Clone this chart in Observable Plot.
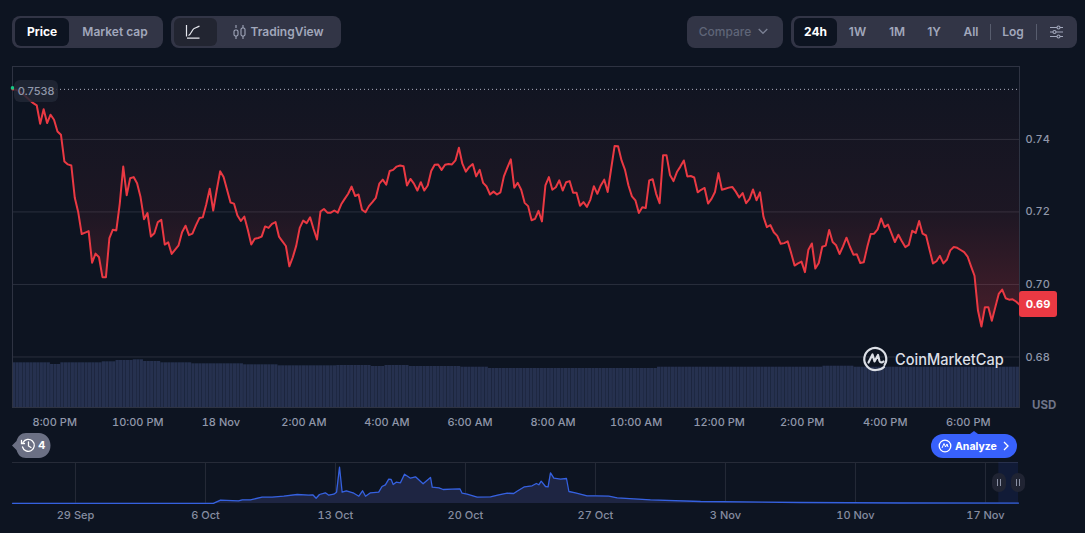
<!DOCTYPE html>
<html>
<head>
<meta charset="utf-8">
<script src="https://cdn.jsdelivr.net/npm/d3@7"></script>
<script src="https://cdn.jsdelivr.net/npm/@observablehq/plot@0.6"></script>
<style>
html,body{margin:0;padding:0;background:#0d1421;width:1085px;height:533px;overflow:hidden;font-family:Inter,"Noto Sans",sans-serif}
#stage{position:relative;width:1085px;height:533px}
#stage>svg{position:absolute;left:0;top:0}
.ui{position:absolute;box-sizing:border-box;white-space:nowrap}
.grp{background:#323546;border-radius:8px;height:32px;top:16px}
.sel{top:18px;height:28px;border-radius:6px;background:#0d1421}
.btn{top:16px;height:32px;line-height:32px;font-size:12px;font-weight:600;color:#a1a7bb;text-align:center;transform:translateX(-50%)}
.sep{top:24px;height:16px;width:1px;background:#585d6e}
.ico{position:absolute;overflow:visible}
</style>
</head>
<body>
<div id="stage"></div>
<script>
const openPrice = 0.7538;
const lastPrice = 0.6944;
const prices = [
0.7538,0.7537,0.7532,0.7526,0.7517,0.7508,0.7500,0.7494,0.7443,0.7483,0.7445,0.7468,0.7454,0.7422,0.7413,0.7339,0.7331,0.7328,0.7239,0.7199,
0.7139,0.7143,0.7147,0.7060,0.7085,0.7075,0.7020,0.7020,0.7128,0.7151,0.7149,0.7223,0.7325,0.7246,0.7293,0.7296,0.7279,0.7241,0.7180,0.7197,
0.7132,0.7141,0.7172,0.7178,0.7110,0.7116,0.7084,0.7096,0.7108,0.7144,0.7162,0.7136,0.7140,0.7163,0.7183,0.7185,0.7221,0.7264,0.7204,0.7259,
0.7312,0.7296,0.7261,0.7226,0.7223,0.7190,0.7175,0.7187,0.7151,0.7110,0.7126,0.7128,0.7132,0.7160,0.7156,0.7167,0.7172,0.7132,0.7119,0.7106,
0.7050,0.7075,0.7107,0.7156,0.7176,0.7169,0.7185,0.7153,0.7124,0.7201,0.7208,0.7198,0.7198,0.7204,0.7198,0.7221,0.7236,0.7250,
0.7270,0.7244,0.7248,0.7206,0.7199,0.7216,0.7227,0.7239,0.7278,0.7289,0.7275,0.7313,0.7316,0.7325,0.7328,0.7326,0.7273,0.7291,0.7278,0.7259,
0.7282,0.7259,0.7273,0.7313,0.7330,0.7331,0.7316,0.7330,0.7332,0.7331,0.7342,0.7377,0.7333,0.7311,0.7324,0.7332,0.7298,0.7316,0.7280,0.7270,
0.7248,0.7256,0.7248,0.7254,0.7298,0.7322,0.7345,0.7267,0.7280,0.7261,0.7225,0.7216,0.7177,0.7181,0.7203,0.7174,0.7273,0.7296,0.7261,0.7268,
0.7287,0.7259,0.7282,0.7285,0.7253,0.7253,0.7217,0.7227,0.7214,0.7234,0.7271,0.7250,0.7273,0.7289,0.7255,0.7319,0.7382,0.7381,0.7342,0.7316,
0.7273,0.7243,0.7232,0.7197,0.7213,0.7211,0.7287,0.7290,0.7250,0.7224,0.7356,0.7356,0.7302,0.7285,0.7310,0.7325,
0.7342,0.7298,0.7299,0.7295,0.7254,0.7261,0.7266,0.7223,0.7236,0.7255,0.7307,0.7261,0.7264,0.7267,0.7269,0.7256,0.7240,0.7252,0.7224,0.7236,
0.7262,0.7232,0.7254,0.7187,0.7158,0.7164,0.7144,0.7134,0.7112,0.7114,0.7119,0.7087,0.7052,0.7058,0.7063,0.7034,0.7096,0.7113,0.7044,0.7059,
0.7104,0.7107,0.7150,0.7117,0.7108,0.7084,0.7105,0.7129,0.7104,0.7082,0.7083,0.7059,0.7061,0.7103,0.7139,0.7140,0.7152,0.7182,0.7158,0.7165,
0.7141,0.7117,0.7137,0.7119,0.7103,0.7109,0.7148,0.7142,0.7175,0.7140,0.7135,0.7096,0.7058,0.7064,0.7079,0.7058,0.7068,0.7094,0.7103,0.7101,
0.7095,0.7089,0.7077,0.7050,0.7024,0.6928,0.6884,0.6937,0.6937,0.6900,0.6937,0.6974,0.6986,0.6962,0.6958,0.6959,0.6953,0.6944
];
const volumeLevels = [44.7,43,44.7,45.7,47,47.7,46,44.7,43.7,42.7,41.7,42,41,42,41,40.3,39,40.3,41.3,40.3];
const volumeRuns   = [11,3,12,4,5,3,5,9,15,10,17,10,4,7,15,8,49,48,9,48];
const priceTickHours  = [20,22,24,26,28,30,32,34,36,38,40,42];
const priceTickLabels = ["8:00 PM","10:00 PM","18 Nov","2:00 AM","4:00 AM","6:00 AM","8:00 AM","10:00 AM","12:00 PM","2:00 PM","4:00 PM","6:00 PM"];
const priceTicks = [0.74,0.72,0.70,0.68];

const miniDays = [-3.39,7.43,7.81,8.78,8.99,9.42,10.05,10.59,11.22,11.94,12.57,12.78,12.96,13.14,13.46,13.64,13.91,14.06,14.22,14.36,14.59,14.99,15.26,15.46,15.62,15.89,16.33,16.51,16.69,16.87,17.0,17.11,17.27,17.5,17.72,18.04,18.31,18.72,19.12,19.21,19.57,19.8,20.28,20.7,20.82,21.09,21.63,22.35,22.8,23.25,23.6,23.78,24.18,24.59,24.82,24.95,25.08,25.31,25.45,25.58,25.76,26.12,26.44,26.57,26.92,27.55,28.0,28.72,29.17,30.07,30.96,33.66,39,44.4,50.78];
const miniValues = [0.2,0.2,3.3,2.7,3.7,3.7,6.3,6.3,7.3,9,8.3,8.7,5.3,9,10.7,8.3,9.3,11.3,36.3,11.3,12.7,10.3,7.3,12.7,7.3,10.7,11.3,17,18.7,24.3,24,19,21.3,20.7,29.3,25.3,26.7,19.7,26,16.3,15.7,14,14.3,14.7,10.3,9.3,6.3,6.7,8.7,10.3,10,12.3,16.7,17.7,20,18.7,22.3,17,16.7,30.7,25.3,24.3,25,12,10.7,7.7,7.7,7.3,5.7,4.7,3.7,2,1,0.5,0.4];
const miniTickDays = [0,7,14,21,28,35,42,49];
const miniTickLabels = ["29 Sep","6 Oct","13 Oct","20 Oct","27 Oct","3 Nov","10 Nov","17 Nov"];

const MIN = 60000, DAY = 864e5;
const start = new Date(2023,10,17,18,59), end = new Date(+start + 1455*MIN);
const hourDate = h => new Date(2023,10,17,h);
const stepP = (end-start)/(prices.length-1);
const priceRows = prices.map((price,i)=>({time:new Date(+start+i*stepP),price}));
const volumes = volumeLevels.flatMap((v,i)=>Array(volumeRuns[i]).fill(v));
const stepV = (end-start)/volumes.length;
const volumeRows = volumes.map((v,i)=>({t0:new Date(+start+i*stepV),t1:new Date(+start+(i+1)*stepV),v}));
const priceTickDates = priceTickHours.map(hourDate);
const priceLabelOf = new Map(priceTickDates.map((d,i)=>[+d,priceTickLabels[i]]));

const base = new Date(2023,8,29);
const miniDate = d => new Date(+base + d*DAY);
const miniRows = miniDays.map((d,i)=>({time:miniDate(d),v:miniValues[i]}));
const miniTickDates = miniTickDays.map(miniDate);
const miniLabelOf = new Map(miniTickDates.map((d,i)=>[+d,miniTickLabels[i]]));

const W=1085,H=533;
const fontStyle={background:"transparent",fontFamily:"Inter",fontSize:"11px",fontWeight:500};
const geom={width:W,height:H,marginTop:66,marginBottom:126,marginLeft:12,marginRight:66};
const grad = () => {
  const s=d3.create("svg:defs");
  const g=s.append("linearGradient").attr("id","priceFade").attr("x1",0).attr("x2",0).attr("y1",0).attr("y2",1);
  [[0,.02],[.51,.07],[.89,.22],[1,.3]].forEach(([o,a])=>g.append("stop").attr("offset",o).attr("stop-color","#ea3943").attr("stop-opacity",a));
  return s.node();
};

const volumePlot = Plot.plot({...geom,style:fontStyle,
  x:{type:"time",domain:[start,end],axis:null},
  y:{domain:[0,341],axis:null},
  marks:[Plot.rectY(volumeRows,{x1:"t0",x2:"t1",y1:0,y2:"v",fill:"#26314f",insetLeft:.1,insetRight:.1})]
});

const mainPlot = Plot.plot({...geom,style:fontStyle,
  x:{type:"time",domain:[start,end]},
  y:{domain:[0.66607,0.7601]},
  marks:[
    grad,
    Plot.ruleY(priceTicks,{stroke:"#2a2f3d",strokeWidth:1}),
    Plot.frame({stroke:"#2e3342"}),
    Plot.areaY(priceRows,{x:"time",y1:()=>openPrice,y2:"price",fill:"url(#priceFade)"}),
    Plot.ruleY([openPrice],{stroke:"#aab0c2",strokeDasharray:"1,3",strokeWidth:1}),
    Plot.lineY(priceRows,{x:"time",y:"price",stroke:"#ea3943",strokeWidth:2}),
    Plot.dot([{time:start,price:openPrice+0.0004}],{x:"time",y:"price",r:1.8,fill:"#16c784"}),
    Plot.axisX({ticks:priceTickDates,tickFormat:d=>priceLabelOf.get(+d),tickSize:0,tickPadding:11,label:null,fill:"#9097aa"}),
    Plot.axisY({anchor:"right",ticks:priceTicks,tickFormat:".2f",tickSize:0,tickPadding:6,label:null,fill:"#9097aa"})
  ]
});

const miniPlot = Plot.plot({width:W,height:H,marginTop:462,marginBottom:30,marginLeft:12,marginRight:67,style:fontStyle,
  x:{type:"time",domain:[miniDate(-3.39),miniDate(50.78)]},
  y:{domain:[0,41],axis:null},
  marks:[
    Plot.ruleY([41],{stroke:"#262b38"}),
    Plot.ruleX(miniTickDates,{stroke:"#262b38"}),
    Plot.rectY([{a:miniDate(49.72),b:miniDate(50.78)}],{x1:"a",x2:"b",y1:0,y2:41,fill:"#3861fb",fillOpacity:.1}),
    Plot.areaY(miniRows,{x:"time",y:"v",fill:"#1e2542"}),
    Plot.lineY(miniRows,{x:"time",y:"v",stroke:"#3561e0",strokeWidth:1.3}),
    Plot.axisX({ticks:miniTickDates,tickFormat:d=>miniLabelOf.get(+d),tickSize:0,tickPadding:8,label:null,fill:"#858ca0"})
  ]
});

const stage=document.getElementById("stage");
stage.append(volumePlot,mainPlot,miniPlot);

const add = (cls,style,html="") => {
  const e=document.createElement("div");
  e.className="ui "+cls;
  e.style.cssText=style;
  e.innerHTML=html;
  stage.append(e);
  return e;
};
// top button groups
add("grp","left:12px;width:151px");
add("sel","left:15px;width:54px");
add("btn","left:42px;color:#fff;font-weight:700","Price");
add("btn","left:115px","Market cap");
add("grp","left:171px;width:170px");
add("sel","left:174px;width:43px;background:#222531");
add("","left:186px;top:25px;width:14px;height:14px",'<svg class="ico" width="14" height="14" viewBox="0 0 14 14" fill="none" stroke="#e6e8ee" stroke-width="1.2"><path d="M.5 0V11.5M1 13.2H13.5M2.5 10.5C5 9.5 6 4.5 8 3.5C9.5 2.7 11 2.5 13.5 1"/></svg>');
add("","left:233px;top:25px;width:13px;height:14px",'<svg class="ico" width="13" height="14" viewBox="0 0 13 14" fill="none" stroke="#a1a7bb" stroke-width="1.1"><path d="M3 0V3M3 11V14M10 0V3M10 11V14"/><rect x="1" y="5" width="4" height="6" rx="1.5"/><rect x="8" y="3" width="4" height="8" rx="1.5"/></svg>');
add("btn","left:287px","TradingView");
add("grp","left:687px;width:96px");
add("btn","left:725px;color:#5f6578;font-weight:500","Compare");
add("","left:758px;top:28px;width:10px;height:7px",'<svg class="ico" width="10" height="7" viewBox="0 0 10 7" fill="none" stroke="#7b8194" stroke-width="1.3"><path d="M.7 1L5 5.3L9.3 1"/></svg>');
add("grp","left:791px;width:286px");
add("sel","left:794px;width:43px");
add("btn","left:815.5px;color:#fff;font-weight:700","24h");
[["1W",857.5],["1M",897],["1Y",934],["All",971],["Log",1013]].forEach(([t,x])=>add("btn",`left:${x}px`,t));
add("sep","left:990px");
add("sep","left:1036px");
add("","left:1050px;top:25px;width:13px;height:14px",'<svg class="ico" width="13" height="14" viewBox="0 0 13 14" fill="none" stroke="#a1a7bb" stroke-width="1.1"><path d="M0 2.5H7M10 2.5H13M0 7H3M6 7H13M0 11.5H7M10 11.5H13"/><circle cx="8.5" cy="2.5" r="1.5"/><circle cx="4.5" cy="7" r="1.5"/><circle cx="8.5" cy="11.5" r="1.5"/></svg>');
// price tags
add("","left:14px;top:80px;width:44px;height:22px;border-radius:6px;background:rgba(34,39,53,.85);color:#9097aa;font-size:11px;font-weight:500;line-height:22px;text-align:center",d3.format(".4f")(openPrice));
add("","left:1019px;top:291px;width:38px;height:26px;border-radius:3px;background:#ea3943;color:#fff;font-size:11px;font-weight:700;line-height:26px;text-align:center",d3.format(".2f")(lastPrice));
add("","left:1032px;top:398px;color:#6f7588;font-size:11.5px;font-weight:700;line-height:14px","USD");
// watermark
add("","left:864px;top:347px;width:24px;height:24px",'<svg class="ico" width="24" height="24" viewBox="0 0 24 24" fill="none" stroke="#dcdfe6" stroke-width="2.2" stroke-linecap="round" stroke-linejoin="round"><path d="M20.5 18A11 11 0 1 0 12 23C15 23 18 22 20 20"/><path d="M4.5 15.5L8.5 7.5L10.5 14.5L14 8L15.5 14C16 15.5 18 16 19.5 14.5"/></svg>');
add("","left:895px;top:350px;color:#dcdfe6;font-size:15.5px;font-weight:500;line-height:20px;transform:scaleX(.94);transform-origin:0 50%","CoinMarketCap");
// history bubble
add("","left:12px;top:433px;width:39px;height:25px",'<svg class="ico" width="39" height="25" viewBox="0 0 39 25"><path d="M0 12.5L4.5 8C6 3 9 0 14 0H27C33 0 38.5 5 38.5 12.5S33 25 27 25H14C9 25 6 22 4.5 17Z" fill="#6b7084"/><g fill="none" stroke="#fff" stroke-width="1.3" stroke-linecap="round"><path d="M11 9.5A6 6 0 1 1 10.5 14"/><path d="M16.5 9V13L19 14.5"/><path d="M9.5 7.5V10.5H12.5"/></g></svg>');
add("","left:38px;top:438px;color:#fff;font-size:11px;font-weight:700;line-height:15px","4");
// analyze pill
add("","left:931px;top:431px;width:86px;height:27px",'<svg class="ico" width="86" height="27" viewBox="0 0 86 27"><path d="M39 3L43 0L47 3Z" fill="#3861fb"/><rect y="3" width="86" height="24" rx="12" fill="#3861fb"/><circle cx="14" cy="15" r="5.8" fill="none" stroke="#fff" stroke-width="1.3"/><path d="M11 17L13 12.5L14.5 16L16 13L17 16" fill="none" stroke="#fff" stroke-width="1"/><path d="M73 11L77 15L73 19" fill="none" stroke="#fff" stroke-width="1.3"/></svg>');
add("","left:955px;top:439px;color:#fff;font-size:10.5px;font-weight:700;line-height:15px","Analyze");
// range handles
[992,1011].forEach(x=>add("",`left:${x}px;top:473px;width:14px;height:19px;border-radius:7px;background:#202433`,'<svg class="ico" width="14" height="19" viewBox="0 0 14 19" stroke="#8a90a4" stroke-width="1"><path d="M5.5 6V13M8.5 6V13"/></svg>'));
</script>
</body>
</html>
